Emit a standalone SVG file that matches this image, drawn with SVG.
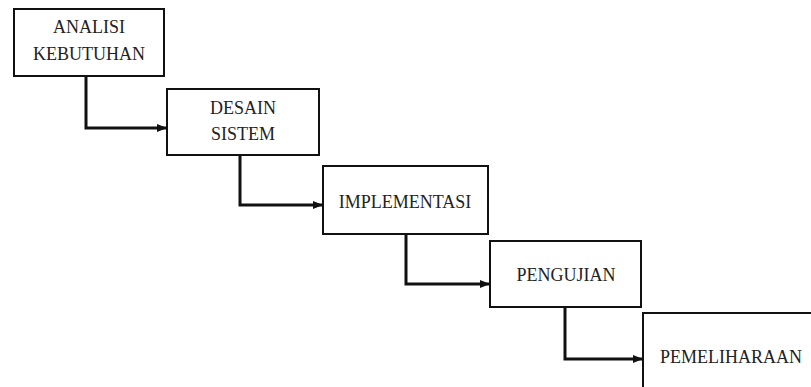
<svg xmlns="http://www.w3.org/2000/svg" width="811" height="387" viewBox="0 0 811 387">
<style>
.box{fill:#fff;stroke:#111;stroke-width:2}
.lbl{font-family:"Liberation Serif","Times New Roman",serif;font-size:18px;fill:#222;text-anchor:middle}
.con{fill:none;stroke:#111;stroke-width:3}
</style>
<defs>
<marker id="ah" markerUnits="userSpaceOnUse" markerWidth="10" markerHeight="8" refX="10" refY="4" orient="auto">
<path d="M0,0 L10,4 L0,8 Z" fill="#111"/>
</marker>
</defs>
<rect width="811" height="387" fill="#fff"/>
<g id="connectors">
<path class="con" d="M86,76 V128 H167" marker-end="url(#ah)"/>
<path class="con" d="M240,155 V205 H323" marker-end="url(#ah)"/>
<path class="con" d="M406,234 V284 H490" marker-end="url(#ah)"/>
<path class="con" d="M565,307 V359 H643" marker-end="url(#ah)"/>
</g>
<g id="analisi">
<rect class="box" x="14" y="9" width="150" height="67"/>
<text class="lbl" x="89" y="33">ANALISI</text>
<text class="lbl" x="89" y="60">KEBUTUHAN</text>
</g>
<g id="desain">
<rect class="box" x="167" y="89" width="152" height="66"/>
<text class="lbl" x="243" y="114">DESAIN</text>
<text class="lbl" x="243" y="140">SISTEM</text>
</g>
<g id="implementasi">
<rect class="box" x="323" y="166" width="165" height="68"/>
<text class="lbl" x="405" y="208">IMPLEMENTASI</text>
</g>
<g id="pengujian">
<rect class="box" x="490" y="241" width="151" height="66"/>
<text class="lbl" x="566" y="281">PENGUJIAN</text>
</g>
<g id="pemeliharaan">
<rect class="box" x="643" y="313" width="220" height="100"/>
<text class="lbl" x="660" y="363" style="text-anchor:start">PEMELIHARAAN</text>
</g>
</svg>
